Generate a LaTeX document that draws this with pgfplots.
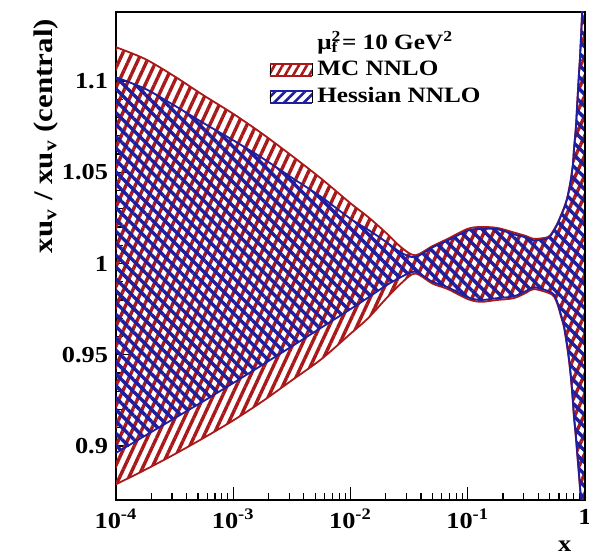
\documentclass[border=0pt]{standalone}
\usepackage{fontspec}
\setmainfont{Liberation Serif}[FakeStretch=1.15]
\usepackage{pgfplots}
\pgfplotsset{compat=1.18}
\usepackage{pgfplotstable}
\usepgfplotslibrary{fillbetween}
\usetikzlibrary{patterns.meta}
\definecolor{mcred}{RGB}{170,25,25}
\definecolor{heblue}{RGB}{30,30,160}

% x, MC NNLO band (lo, hi), Hessian NNLO band (lo, hi)
\pgfplotstableread{
x         mclo    mchi    helo    hehi
1e-4      0.879   1.1185  0.8962  1.102
1.778e-4  0.887   1.112   0.9057  1.0957
3.162e-4  0.8955  1.1025  0.9152  1.0865
5.623e-4  0.9045  1.092   0.9247  1.0768
1e-3      0.914   1.082   0.9345  1.0675
1.778e-3  0.9245  1.071   0.9445  1.0577
3.162e-3  0.936   1.059   0.9546  1.047
5.623e-3  0.9475  1.0465  0.9648  1.0365
1e-2      0.9615  1.033   0.975   1.0245
0.01413   0.970   1.0255  0.9813  1.0185
0.01995   0.9805  1.017   0.9878  1.012
0.02692   0.989   1.009   0.9925  1.006
0.03548   0.9945  1.0045  0.9955  1.0035
0.05      0.989   1.0095  0.990   1.0088
0.0675    0.986   1.0135  0.987   1.0126
0.1       0.9805  1.019   0.9815  1.018
0.129     0.979   1.020   0.980   1.019
0.178     0.980   1.0195  0.981   1.0188
0.247     0.981   1.017   0.982   1.016
0.316     0.984   1.015   0.985   1.0142
0.366     0.986   1.0135  0.987   1.0126
0.483     0.984   1.0145  0.985   1.0138
0.543     0.982   1.0185  0.983   1.018
0.587     0.977   1.0225  0.978   1.022
0.624     0.971   1.0265  0.972   1.026
0.662     0.965   1.0305  0.966   1.030
0.702     0.955   1.0355  0.956   1.035
0.730     0.947   1.0405  0.948   1.040
0.759     0.937   1.0465  0.938   1.046
0.789     0.924   1.0545  0.925   1.054
0.805     0.916   1.0625  0.917   1.062
0.838     0.904   1.0755  0.905   1.075
0.855     0.897   1.0855  0.898   1.085
0.889     0.884   1.1045  0.885   1.104
0.906     0.877   1.1125  0.878   1.112
0.942     0.864   1.1355  0.865   1.135
0.979     0.84    1.16    0.84    1.16
}\bands

\begin{document}
\begin{tikzpicture}[font=\bfseries\fontsize{11.5}{13.5}\selectfont]
\begin{axis}[
  scale only axis,
  width=234.5bp, height=244bp,
  xmode=log,
  xmin=1e-4, xmax=1,
  ymin=0.8704, ymax=1.1378,
  axis line style={line width=0.8bp},
  tick align=inside,
  xtick pos=bottom, ytick pos=left,
  major tick length=6.5bp, minor tick length=3.5bp,
  every tick/.style={black, line width=0.6bp},
  xtick={1e-4,1e-3,1e-2,1e-1,1},
  xticklabels={10\textsuperscript{-4},10\textsuperscript{-3},10\textsuperscript{-2},10\textsuperscript{-1},1},
  ytick={0.9,0.95,1,1.05,1.1},
  yticklabels={0.9,0.95,1,1.05,1.1},
  minor y tick num=4,
  xticklabel style={yshift=-1bp},
  yticklabel style={xshift=-0.5bp},
  xlabel={x},
  xlabel style={at={(axis description cs:0.957,0)}, anchor=center, yshift=-23bp},
  ylabel={xu\textsubscript{v} / xu\textsubscript{v} (central)},
  ylabel style={at={(axis description cs:-0.15,1)}, anchor=east,
    font=\bfseries\fontsize{13.5}{15}\selectfont},
  legend cell align=left,
  legend style={draw=none, fill=none, at={(axis description cs:0.312,0.978)}, anchor=north west,
    row sep=0.5bp, font=\bfseries\fontsize{11}{13}\selectfont},
  every axis plot/.append style={smooth, tension=0.5},
]
\addlegendimage{empty legend}
\addlegendentry{μ\rlap{\textsuperscript{2}}\textsubscript{f}\,= 10 GeV\textsuperscript{2}}
\addlegendimage{legend image code/.code={
  \fill[pattern={Lines[angle=60,distance=3.5bp,line width=1.3bp]}, pattern color=mcred] (0bp,-3bp) rectangle (21bp,3bp);
  \draw[mcred, line width=0.8bp] (0bp,-3bp) -- (21bp,-3bp) (0bp,3bp) -- (21bp,3bp);}}
\addlegendentry{MC NNLO}
\addlegendimage{legend image code/.code={
  \fill[pattern={Lines[angle=45,distance=3.5bp,line width=1.3bp]}, pattern color=heblue] (0bp,-3bp) rectangle (21bp,3bp);
  \draw[heblue, line width=0.8bp] (0bp,-3bp) -- (21bp,-3bp) (0bp,3bp) -- (21bp,3bp);}}
\addlegendentry{Hessian NNLO}

% MC NNLO band
\addplot[name path=mchi, mcred, line width=0.9bp, forget plot] table[x=x, y=mchi] {\bands};
\addplot[name path=mclo, mcred, line width=0.9bp, forget plot] table[x=x, y=mclo] {\bands};
\addplot[pattern={Lines[angle=65,distance=4.2bp,line width=1.7bp]}, pattern color=mcred, forget plot]
  fill between[of=mchi and mclo];
% Hessian NNLO band
\addplot[name path=hehi, heblue, line width=0.9bp, forget plot] table[x=x, y=hehi] {\bands};
\addplot[name path=helo, heblue, line width=0.9bp, forget plot] table[x=x, y=helo] {\bands};
\addplot[pattern={Lines[angle=-45,distance=4.2bp,line width=1.7bp]}, pattern color=heblue, forget plot]
  fill between[of=hehi and helo];
\end{axis}
\pgfresetboundingbox
\useasboundingbox (-58bp,-27.5bp) rectangle (236.5bp,250bp);
\end{tikzpicture}
\end{document}
